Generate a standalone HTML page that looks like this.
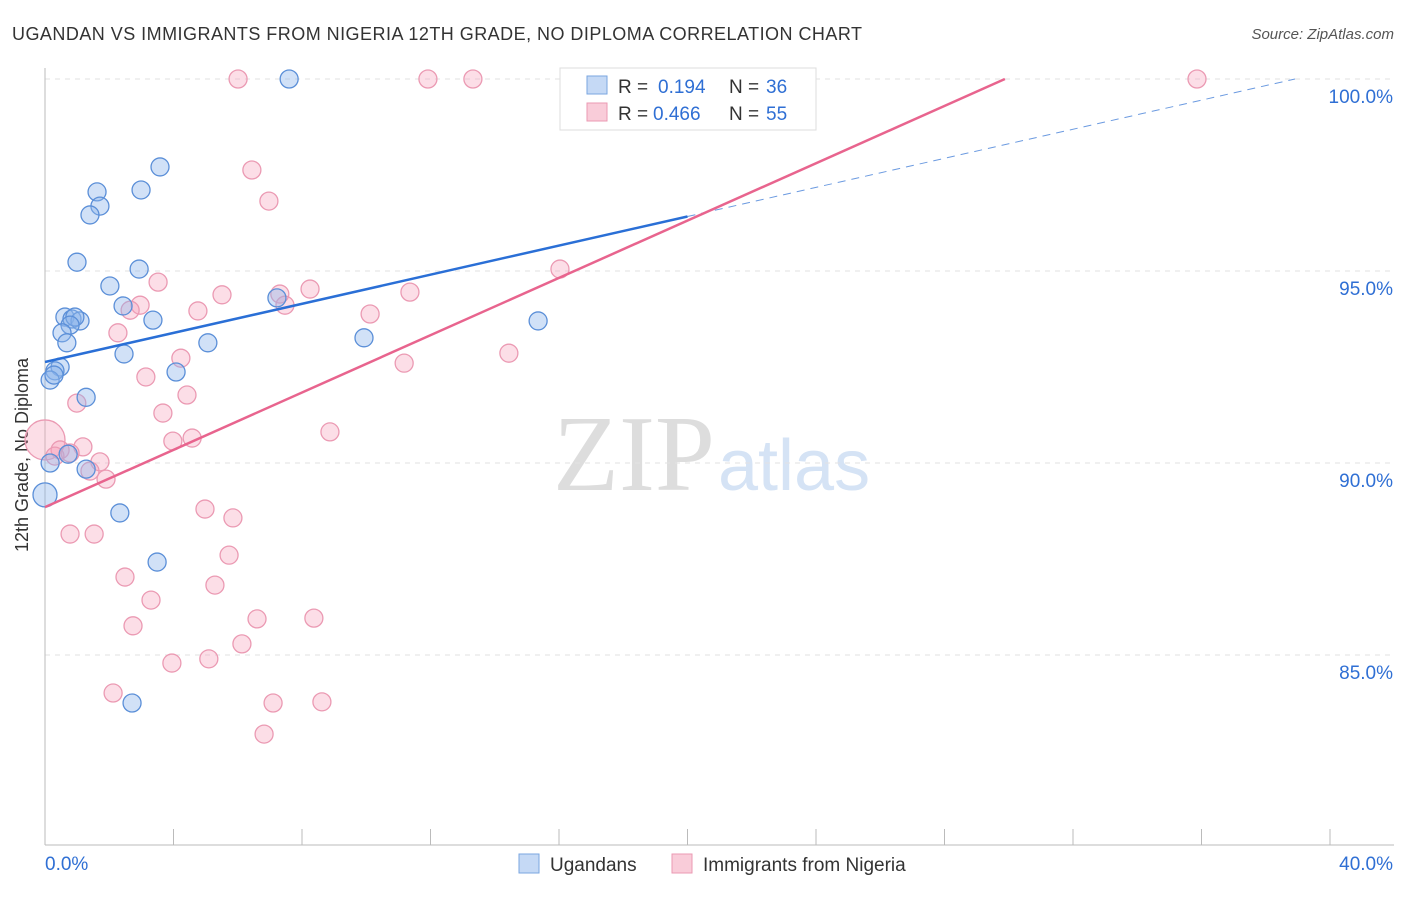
<!DOCTYPE html>
<html><head><meta charset="utf-8"><style>
body{margin:0;background:#fff;font-family:"Liberation Sans",sans-serif}
svg text{font-family:"Liberation Sans",sans-serif}
</style></head><body>
<svg id="chart" width="1406" height="892" xmlns="http://www.w3.org/2000/svg">
<text x="12" y="40" font-size="18" fill="#333" textLength="850">UGANDAN VS IMMIGRANTS FROM NIGERIA 12TH GRADE, NO DIPLOMA CORRELATION CHART</text>
<text x="1394" y="39" font-size="15" fill="#555" text-anchor="end" font-style="italic">Source: ZipAtlas.com</text>
<text x="28" y="455" font-size="18" fill="#333" text-anchor="middle" transform="rotate(-90 28 455)">12th Grade, No Diploma</text>
<text x="553" y="490" font-size="108" fill="#ddd" style="font-family:'Liberation Serif',serif">ZIP</text>
<text x="718" y="490" font-size="72" fill="#d5e3f5">atlas</text>
<g id="grid"></g><g id="axes"></g><g id="pts"></g><g id="lines"></g>
<g>
<rect x="560" y="68" width="256" height="62" fill="#fff" stroke="#ddd"/>
<rect x="587" y="76" width="20" height="18" fill="#c5d9f5" stroke="#7aa6e0"/>
<rect x="587" y="103" width="20" height="18" fill="#f9ccd9" stroke="#eb9ab3"/>
<text x="618" y="93" font-size="19" fill="#333">R =</text><text x="658" y="93" font-size="19" fill="#2f6fd4">0.194</text>
<text x="729" y="93" font-size="19" fill="#333">N =</text><text x="766" y="93" font-size="19" fill="#2f6fd4">36</text>
<text x="618" y="120" font-size="19" fill="#333">R =</text><text x="653" y="120" font-size="19" fill="#2f6fd4">0.466</text>
<text x="729" y="120" font-size="19" fill="#333">N =</text><text x="766" y="120" font-size="19" fill="#2f6fd4">55</text>
</g>
<g>
<rect x="519" y="854" width="20" height="19" fill="#c5d9f5" stroke="#7aa6e0"/>
<text x="550" y="871" font-size="19" fill="#333">Ugandans</text>
<rect x="672" y="854" width="20" height="19" fill="#f9ccd9" stroke="#eb9ab3"/>
<text x="703" y="871" font-size="19" fill="#333">Immigrants from Nigeria</text>
</g>
</svg>
<script>
const blueX=[7.6,3.58,1.62,2.99,1.71,1.4,0.996,2.93,2.02,2.43,0.62,0.84,1.09,0.93,0.78,3.36,0.53,0.68,5.07,2.46,7.22,9.93,15.35,0.47,0.31,0.16,4.08,1.28,0.16,0.72,1.28,2.33,3.49,2.71,0.0,0.28];
const blueY=[100,97.71,97.06,97.11,96.69,96.46,95.23,95.05,94.61,94.09,93.8,93.75,93.7,93.8,93.59,93.72,93.39,93.13,93.13,92.84,94.3,93.26,93.7,92.5,92.4,92.16,92.37,91.71,90,90.23,89.84,88.7,87.42,83.75,89.17,92.29];
const pinkX=[6.01,11.92,13.32,16.65,35.86,6.44,6.97,16.03,3.52,5.51,8.25,11.36,7.31,7.47,2.96,2.65,4.76,10.12,2.27,4.23,11.18,14.44,3.14,4.42,0.99,3.67,8.87,4.58,3.98,1.18,0.0,0.47,0.78,1.71,1.4,1.9,4.98,5.85,0.78,1.53,5.73,2.49,5.29,3.3,2.74,6.6,8.37,6.13,3.95,5.1,2.12,7.1,8.62,6.82,0.31];
const pinkY=[100,100,100,100,100,97.63,96.82,95.05,94.71,94.38,94.53,94.45,94.4,94.11,94.11,93.98,93.96,93.88,93.39,92.73,92.6,92.86,92.24,91.77,91.56,91.3,90.81,90.65,90.57,90.42,90.6,90.34,90.26,90.03,89.79,89.58,88.8,88.57,88.15,88.15,87.6,87.03,86.82,86.43,85.76,85.94,85.96,85.29,84.79,84.9,84.01,83.75,83.78,82.94,90.18];
const blueLine=[[0,92.63],[20.0,96.42],[38.91,100]];
const pinkLine=[[0,88.85],[29.88,100]];
const xTicks=[0,40];const yTicks=[85,90,95,100];
const X=v=>45+v/40*1285, Y=v=>79+(100-v)*38.4;
const NS="http://www.w3.org/2000/svg";
function mk(t,a,p){const e=document.createElementNS(NS,t);for(const k in a)e.setAttribute(k,a[k]);p.appendChild(e);return e;}
const grid=document.getElementById('grid'),axes=document.getElementById('axes');
yTicks.forEach(v=>{const l=mk('line',{x1:45,x2:1394,y1:Y(v),y2:Y(v),stroke:'#e2e2e2','stroke-dasharray':'5,5'},grid);


const t=mk('text',{x:1393,y:Y(v)+24,'font-size':19,fill:'#2f6fd4','text-anchor':'end'},axes);t.textContent=v.toFixed(1)+'%';

});
const ax=mk('line',{x1:45,x2:45,y1:68,y2:845,stroke:'#bbb'},axes);


const bx=mk('line',{x1:45,x2:1394,y1:845,y2:845,stroke:'#bbb'},axes);


for(let i=1;i<=10;i++){const t=mk('line',{x1:45+i*128.5,x2:45+i*128.5,y1:829,y2:845,stroke:'#bbb'},axes);

}
xTicks.forEach((v,i)=>{const t=mk('text',{x:i?1393:45,y:870,'font-size':19,fill:'#2f6fd4','text-anchor':i?'end':'start'},axes);t.textContent=v.toFixed(1)+'%';

});
const pts=document.getElementById('pts');
pinkX.forEach((x,i)=>{const c=mk('circle',{cx:X(x),cy:Y(pinkY[i]),r:(i==30?20:9),fill:'rgba(245,160,185,0.35)',stroke:'#eb9ab3','stroke-width':1.3},pts);

});
blueX.forEach((x,i)=>{const c=mk('circle',{cx:X(x),cy:Y(blueY[i]),r:(i==34?12:9),fill:'rgba(140,180,235,0.4)',stroke:'#5b8fd8','stroke-width':1.3},pts);

});
const ln=document.getElementById('lines');
let a=mk('line',{x1:X(blueLine[0][0]),y1:Y(blueLine[0][1]),x2:X(blueLine[1][0]),y2:Y(blueLine[1][1]),stroke:'#2a6fd6','stroke-width':2.5},ln);


a=mk('line',{x1:X(blueLine[1][0]),y1:Y(blueLine[1][1]),x2:X(blueLine[2][0]),y2:Y(blueLine[2][1]),stroke:'#6b9ae0','stroke-width':1,'stroke-dasharray':'8,6'},ln);


a=mk('line',{x1:X(pinkLine[0][0]),y1:Y(pinkLine[0][1]),x2:X(pinkLine[1][0]),y2:Y(pinkLine[1][1]),stroke:'#e8648e','stroke-width':2.5},ln);


</script>
</body></html>
